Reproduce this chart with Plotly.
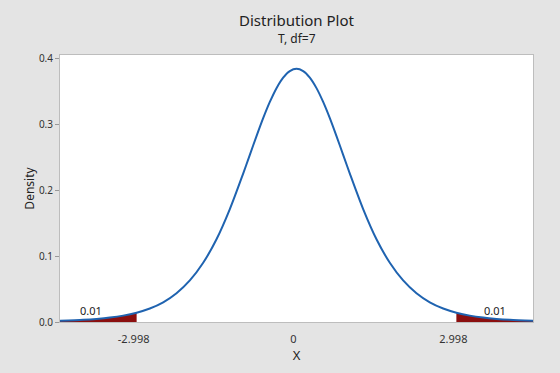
import plotly.graph_objects as go

# Density curve values (T distribution, df=7)
x_vals = [-4.435, -4.0, -3.75, -3.5, -3.25, -2.998, -2.75, -2.5, -2.25, -2.0, -1.75, -1.5, -1.25, -1.0,
          -0.875, -0.75, -0.625, -0.5, -0.375, -0.25, -0.125, 0.0, 0.125, 0.25, 0.375, 0.5, 0.625,
          0.75, 0.875, 1.0, 1.25, 1.5, 1.75, 2.0, 2.25, 2.5,
          2.75, 2.998, 3.25, 3.5, 3.75, 4.0, 4.435]
y_vals = [0.0018, 0.0033, 0.0047, 0.0067, 0.0097, 0.0142, 0.0205, 0.0299, 0.0437, 0.0632, 0.0901,
          0.1258, 0.1717, 0.2257, 0.2542, 0.2826, 0.3099, 0.3346, 0.3556, 0.3716, 0.3816, 0.3850,
          0.3816, 0.3716, 0.3556, 0.3346, 0.3099, 0.2826, 0.2542, 0.2257,
          0.1717, 0.1258, 0.0901, 0.0632, 0.0437, 0.0299, 0.0205, 0.0142, 0.0097, 0.0067, 0.0047,
          0.0033, 0.0018]

critical = 2.998
tail_prob = "0.01"
x_ticks = [-2.998, 0, 2.998]
x_tick_labels = ["-2.998", "0", "2.998"]
y_ticks = [0.0, 0.1, 0.2, 0.3, 0.4]
y_tick_labels = ["0.0", "0.1", "0.2", "0.3", "0.4"]

left_x = [x for x in x_vals if x <= -critical]
left_y = [y for x, y in zip(x_vals, y_vals) if x <= -critical]
right_x = [x for x in x_vals if x >= critical]
right_y = [y for x, y in zip(x_vals, y_vals) if x >= critical]

fill_col = "#8B0F0F"
line_col = "#1F63B0"

fig = go.Figure()
for tx, ty in ((left_x, left_y), (right_x, right_y)):
    fig.add_trace(go.Scatter(x=tx, y=ty, mode="lines", fill="tozeroy",
                             fillcolor=fill_col, line=dict(color=fill_col, width=0, shape="spline", smoothing=0.8),
                             hoverinfo="skip", showlegend=False))
fig.add_trace(go.Scatter(x=x_vals, y=y_vals, mode="lines",
                         line=dict(color=line_col, width=2, shape="spline", smoothing=0.8), showlegend=False))

fig.add_annotation(x=-3.86, y=0.0172, text=tail_prob, showarrow=False, yanchor="middle",
                   font=dict(size=11, color="#222"))
fig.add_annotation(x=3.73, y=0.0172, text=tail_prob, showarrow=False, yanchor="middle",
                   font=dict(size=11, color="#222"))

# Title and subtitle
fig.add_annotation(x=0.5, y=20, xref="paper", yref="paper", text="Distribution Plot",
                   showarrow=False, font=dict(size=15, color="#222"), yanchor="middle")
fig.add_annotation(x=0.5, y=0, xref="paper", yref="paper", text="T, df=7",
                   showarrow=False, font=dict(size=12, color="#222"), yanchor="middle")

fig.update_layout(
    width=560, height=373,
    margin=dict(l=60, r=27, t=55, b=51),
    paper_bgcolor="#E4E4E4", plot_bgcolor="white",
    font=dict(family="Noto Sans, Open Sans, sans-serif", color="#222"),
    xaxis=dict(range=[-4.435, 4.435], tickvals=x_ticks, ticktext=x_tick_labels,
               ticks="outside", ticklen=7, tickcolor="rgba(0,0,0,0)", ticklabelshift=-3,
               showgrid=False, zeroline=False, showline=True, linecolor="#BDBDBD",
               linewidth=1, mirror=True, tickfont=dict(size=11, color="#333"),
               title=dict(text="X", font=dict(size=13, color="#222"), standoff=2)),
    yaxis=dict(range=[0, 0.406], tickvals=y_ticks, ticktext=y_tick_labels,
               ticks="outside", ticklen=4, tickcolor="#999", showgrid=False, zeroline=False,
               showline=True, linecolor="#BDBDBD", linewidth=1, mirror=True,
               tickfont=dict(size=10, color="#333"),
               title=dict(text="Density", font=dict(size=12, color="#222"), standoff=1)),
)

# place title/subtitle in pixel terms relative to the plot area (height 267px)
plot_h = 373 - 55 - 51
fig.layout.annotations[2].y = 1 + (55 - 20) / plot_h
fig.layout.annotations[3].y = 1 + (55 - 38) / plot_h

fig.write_html("out.html")
